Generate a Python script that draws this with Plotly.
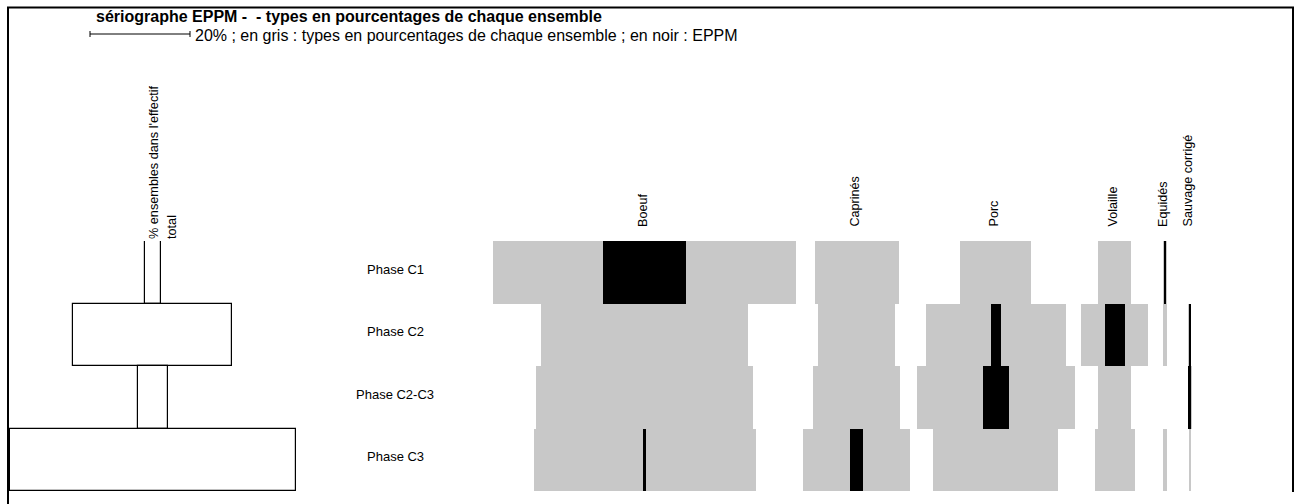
import plotly.graph_objects as go

# ---------------- data ----------------
phases = ["Phase C1", "Phase C2", "Phase C2-C3", "Phase C3"]
types = ["Boeuf", "Caprinés", "Porc", "Volaille", "Equidés", "Sauvage corrigé"]

# % of ensembles in the total count (left panel)
ensemble_pct = [3.2, 31.8, 6.0, 57.2]

# grey: types in percentages of each ensemble
boeuf_pct = [60.6, 41.4, 43.4, 44.4]
caprines_pct = [16.8, 15.4, 17.4, 21.4]
porc_pct = [14.2, 28.0, 31.6, 25.0]
volaille_pct = [6.6, 13.4, 6.6, 8.0]
equides_pct = [0.8, 0.8, 0.0, 0.8]
sauvage_pct = [0.0, 0.6, 0.8, 0.4]

# black: EPPM
boeuf_eppm = [16.6, 0.0, 0.0, 0.6]
caprines_eppm = [0.0, 0.0, 0.0, 2.6]
porc_eppm = [0.0, 2.0, 5.2, 0.0]
volaille_eppm = [0.0, 4.0, 0.0, 0.0]
equides_eppm = [0.5, 0.0, 0.0, 0.0]
sauvage_eppm = [0.0, 0.4, 0.6, 0.0]

scale_bar_pct = 20

title_text = "sériographe EPPM -  - types en pourcentages de chaque ensemble"
legend_text = "20% ; en gris : types en pourcentages de chaque ensemble ; en noir : EPPM"
left_label_1 = "% ensembles dans l'effectif"
left_label_2 = "total"

# ---------------- layout constants ----------------
W, H = 1295, 504
PX = 5.0                       # pixels per percent
TOP, BOT = 241, 491            # plot area (rows) in pixels
col_centers = [128.9, 171.3, 199.1, 222.9, 233.0, 237.9]   # in % units
left_center = 30.5
phase_label_x = 79.0
GREY = "#c8c8c8"
FONT = "Liberation Sans, Arial, sans-serif"


def py(ypix):
    return (BOT - ypix) / (BOT - TOP)


def px(xpix):
    return xpix / W


grey_series = [boeuf_pct, caprines_pct, porc_pct, volaille_pct, equides_pct, sauvage_pct]
black_series = [boeuf_eppm, caprines_eppm, porc_eppm, volaille_eppm, equides_eppm, sauvage_eppm]

fig = go.Figure()

# left panel: white boxes with black outline
fig.add_trace(go.Bar(
    y=phases, x=ensemble_pct,
    base=[left_center - v / 2 for v in ensemble_pct],
    orientation="h", marker=dict(color="white", line=dict(color="black", width=1.2)),
    width=1, showlegend=False, hoverinfo="skip"))

for name, c, g, b in zip(types, col_centers, grey_series, black_series):
    fig.add_trace(go.Bar(
        y=phases, x=g, base=[c - v / 2 for v in g], orientation="h",
        marker=dict(color=GREY, line=dict(width=0)), width=1,
        name=name, showlegend=False, hoverinfo="skip"))
    fig.add_trace(go.Bar(
        y=phases, x=b, base=[c - v / 2 for v in b], orientation="h",
        marker=dict(color="black", line=dict(width=0)), width=1,
        name=name + " EPPM", showlegend=False, hoverinfo="skip"))

annotations = []
# title
annotations.append(dict(text="<b>" + title_text + "</b>", xref="paper", yref="paper",
                        x=px(94), y=py(16), xanchor="left", yanchor="middle",
                        showarrow=False, font=dict(family=FONT, size=16, color="black")))
# legend text
annotations.append(dict(text=legend_text, xref="paper", yref="paper",
                        x=px(193), y=py(36), xanchor="left", yanchor="middle",
                        showarrow=False, font=dict(family=FONT, size=16, color="black")))
# column labels
for name, c in zip(types, col_centers):
    annotations.append(dict(text=name, xref="x", yref="paper", x=c - 0.4, y=py(229),
                            xanchor="center", yanchor="bottom", textangle=-90,
                            showarrow=False, font=dict(family=FONT, size=12.6, color="black")))
# left panel label
annotations.append(dict(text=left_label_1, xref="paper", yref="paper", x=px(154), y=py(241),
                        xanchor="center", yanchor="bottom", textangle=-90,
                        showarrow=False, font=dict(family=FONT, size=12.7, color="black")))
annotations.append(dict(text=left_label_2, xref="paper", yref="paper", x=px(172), y=py(241),
                        xanchor="center", yanchor="bottom", textangle=-90,
                        showarrow=False, font=dict(family=FONT, size=12.7, color="black")))
# phase labels
for p in phases:
    annotations.append(dict(text=p, xref="x", yref="y", x=phase_label_x, y=p,
                            xanchor="center", yanchor="middle", yshift=3,
                            showarrow=False, font=dict(family=FONT, size=13, color="black")))

shapes = []
# scale bar (20 %)
x_start = 18.0
shapes.append(dict(type="line", xref="x", yref="paper", x0=x_start, x1=x_start + scale_bar_pct,
                   y0=py(34), y1=py(34), line=dict(color="black", width=1)))
for xe in (x_start, x_start + scale_bar_pct):
    shapes.append(dict(type="line", xref="x", yref="paper", x0=xe, x1=xe,
                       y0=py(31), y1=py(37), line=dict(color="black", width=1)))
# frame
shapes.append(dict(type="line", xref="paper", yref="paper", x0=px(8), x1=px(8),
                   y0=py(7), y1=py(510), line=dict(color="black", width=2)))
shapes.append(dict(type="line", xref="paper", yref="paper", x0=px(7), x1=px(1294),
                   y0=py(7.5), y1=py(7.5), line=dict(color="black", width=2)))
shapes.append(dict(type="line", xref="paper", yref="paper", x0=px(1293), x1=px(1293),
                   y0=py(7), y1=py(492), line=dict(color="black", width=2)))

fig.update_layout(
    width=W, height=H,
    margin=dict(l=0, r=0, t=TOP, b=H - BOT, pad=0),
    paper_bgcolor="white", plot_bgcolor="white",
    barmode="overlay", bargap=0,
    xaxis=dict(range=[0, W / PX], visible=False, fixedrange=True),
    yaxis=dict(type="category", categoryorder="array", categoryarray=phases,
               range=[3.5, -0.5], visible=False, fixedrange=True),
    annotations=annotations, shapes=shapes,
    showlegend=False,
)

fig.write_html("out.html", post_script="document.body.style.margin='0';",
               config={"displayModeBar": False})
